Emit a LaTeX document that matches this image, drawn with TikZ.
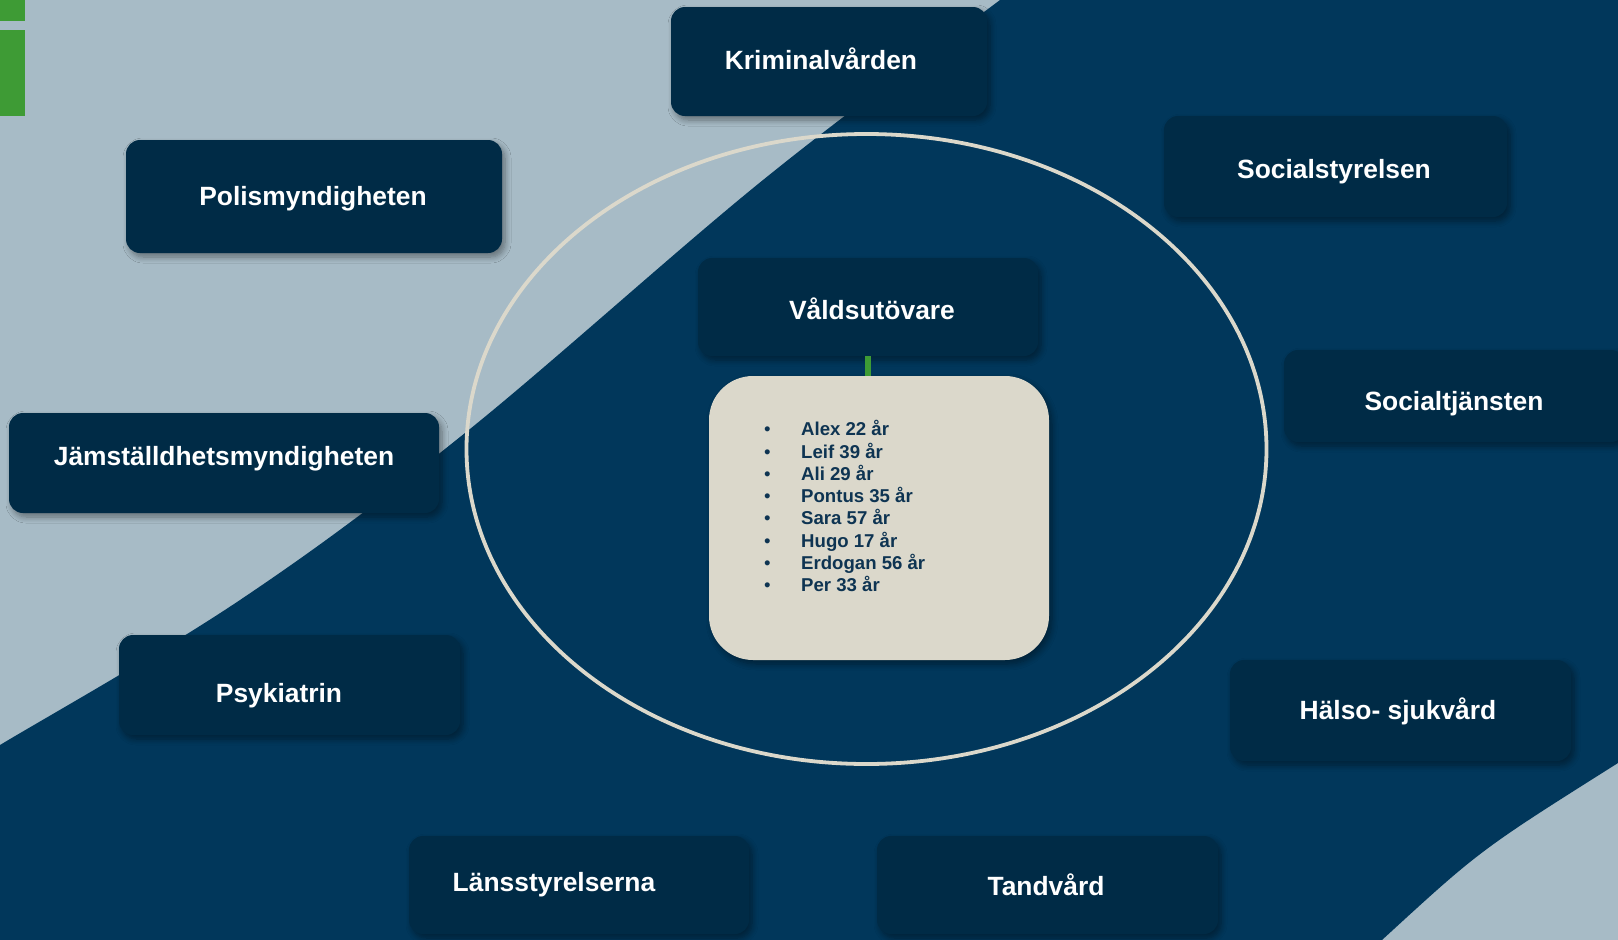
\documentclass[tikz,border=0pt]{standalone}
\usepackage{fontspec}
\setmainfont{Liberation Sans}
\usetikzlibrary{shadows,shadows.blur}
\definecolor{bglight}{HTML}{A7BBC6}
\definecolor{bgdark}{HTML}{01375B}
\definecolor{boxdark}{HTML}{002B46}
\definecolor{beige}{HTML}{DBD8CB}
\definecolor{listtxt}{HTML}{0E3452}
\definecolor{accent}{HTML}{3E9B35}
\begin{document}
\begin{tikzpicture}[x=1pt,y=-1pt,
  softshadow/.style={blur shadow={shadow xshift=3pt, shadow yshift=-4pt, shadow blur radius=6pt, shadow opacity=40, shadow blur steps=8}},
  orgbox/.style={fill=boxdark, rounded corners=14pt, inner sep=0pt, draw=none, softshadow},
  orgtext/.style={text=white, font=\fontsize{26.4}{30}\selectfont\bfseries,
    inner sep=0pt, text height=19pt, text depth=0pt},
  listbox/.style={fill=beige, rounded corners=44pt, inner sep=0pt, draw=none, softshadow},
  listtext/.style={text=listtxt, font=\fontsize{18.6}{22.3}\selectfont\bfseries, inner sep=0pt},
  ring/.style={draw=beige, line width=3.8pt},
  link/.style={draw=accent, line width=6pt},
  bar/.style={fill=accent}
]
\useasboundingbox (0,0) rectangle (1618,940);
% background
\fill[bglight] (0,0) rectangle (1618,940);
\fill[bgdark] plot[smooth, tension=0.6] coordinates {(1012,-8) (1000,0) (763,180) (465,433) (240,600) (0,745) (-12,752)}
  -- (-12,950) -- (1369,950) -- (1382,940) .. controls (1480,850) .. (1618,763) -- (1630,755) -- (1630,-8) -- cycle;
% green bars
\fill[bar] (0,0) rectangle (25,21);
\fill[bar] (0,30) rectangle (25,116);
% ellipse
\draw[ring] (866.5,449) ellipse [x radius=400, y radius=315];
% boxes
\node[orgbox, minimum width=316pt, minimum height=109pt] (krim) at (829,61.5) {};
\node[orgtext] (krimT) at (821,60) {Kriminalvården};
\node[orgbox, minimum width=376pt, minimum height=113pt] (polis) at (314,196.5) {};
\node[orgtext] (polisT) at (313,196) {Polismyndigheten};
\node[orgbox, minimum width=343pt, minimum height=101pt] (socst) at (1335.5,166.5) {};
\node[orgtext] (socstT) at (1334,169) {Socialstyrelsen};
\node[orgbox, minimum width=340pt, minimum height=98pt] (vald) at (868,307) {};
\node[orgtext] (valdT) at (872,310) {Våldsutövare};
\node[orgbox, minimum width=341pt, minimum height=92pt] (socj) at (1454.5,396) {};
\node[orgtext] (socjT) at (1454,401) {Socialtjänsten};
\node[orgbox, minimum width=430pt, minimum height=100pt] (jam) at (224,463) {};
\node[orgtext] (jamT) at (224,456) {Jämställdhetsmyndigheten};
\node[orgbox, minimum width=341pt, minimum height=100pt] (psyk) at (289.5,685) {};
\node[orgtext] (psykT) at (279,693) {Psykiatrin};
\node[orgbox, minimum width=341pt, minimum height=101pt] (halso) at (1400.5,710.5) {};
\node[orgtext] (halsoT) at (1398,710) {Hälso- sjukvård};
\node[orgbox, minimum width=340pt, minimum height=98pt] (lans) at (579,885) {};
\node[orgtext] (lansT) at (554,882) {Länsstyrelserna};
\node[orgbox, minimum width=341pt, minimum height=98pt] (tand) at (1047.5,885) {};
\node[orgtext] (tandT) at (1046,886) {Tandvård};
% list
\node[listbox, minimum width=340pt, minimum height=284pt] (list) at (879,518) {};
\draw[link] (vald.south) -- (vald.south |- list.north);
\node[listtext, anchor=base west] (names) at (764,435.7) {%
\begin{tabular}[t]{@{}p{37pt}@{}l@{}}
{\mdseries •} & Alex 22 år\\
{\mdseries •} & Leif 39 år\\
{\mdseries •} & Ali 29 år\\
{\mdseries •} & Pontus 35 år\\
{\mdseries •} & Sara 57 år\\
{\mdseries •} & Hugo 17 år\\
{\mdseries •} & Erdogan 56 år\\
{\mdseries •} & Per 33 år
\end{tabular}};
\end{tikzpicture}
\end{document}
